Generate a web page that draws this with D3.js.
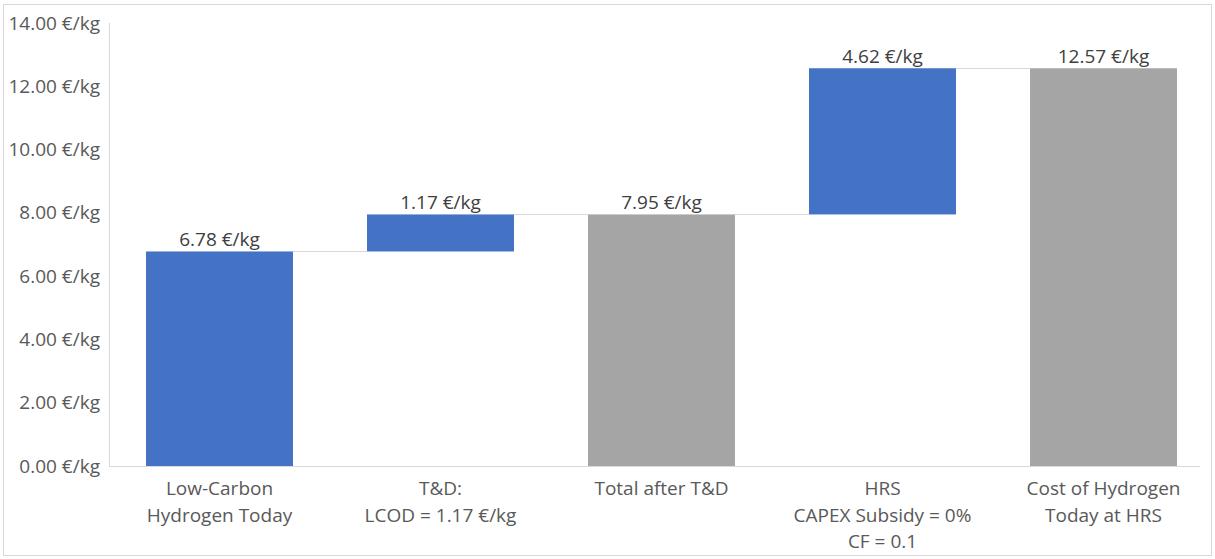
<!DOCTYPE html>
<html>
<head>
<meta charset="utf-8">
<script src="https://cdn.jsdelivr.net/npm/d3@7"></script>
<style>
  html, body { margin: 0; padding: 0; background: #fff; }
  svg { display: block; font-family: "Open Sans", "Noto Sans", sans-serif; }
</style>
</head>
<body>
<svg id="chart" width="1215" height="559"></svg>
<script>
// Waterfall of hydrogen cost build-up (€/kg)
const categories = [
  ["Low-Carbon", "Hydrogen Today"],
  ["T&D:", "LCOD = 1.17 €/kg"],
  ["Total after T&D"],
  ["HRS", "CAPEX Subsidy = 0%", "CF = 0.1"],
  ["Cost of Hydrogen", "Today at HRS"]
];
const barStart = [0, 6.78, 0, 7.95, 0];
const barValue = [6.78, 1.17, 7.95, 4.62, 12.57];
const barKind = ["step", "step", "total", "step", "total"];
const yTicks = [0, 2, 4, 6, 8, 10, 12, 14];

const colors = { step: "#4472C4", total: "#A5A5A5" };
const FS = 19;
const svg = d3.select("#chart");
const W = 1215, H = 559;

// outer frame
svg.append("rect")
  .attr("x", 3.5).attr("y", 4.5).attr("width", W - 7).attr("height", H - 8)
  .attr("fill", "none").attr("stroke", "#D9D9D9");

const x = d3.scaleBand().domain(d3.range(categories.length))
  .range([109, 1214]).paddingInner(0.335).paddingOuter(0.1675);
const y = d3.scaleLinear().domain([0, 14]).range([466, 23]);

// y axis line
svg.append("line")
  .attr("x1", 109.5).attr("x2", 109.5).attr("y1", y(14)).attr("y2", y(0))
  .attr("stroke", "#D9D9D9");

// y tick labels
const yAxis = d3.axisLeft(y).tickValues(yTicks)
  .tickFormat(d => d3.format(".2f")(d) + " €/kg").tickSize(0).tickPadding(9);
const ya = svg.append("g").attr("transform", "translate(109,0)").call(yAxis);
ya.select(".domain").remove();
ya.selectAll("text").attr("font-size", FS).attr("fill", "#595959")
  .attr("font-family", "'Open Sans', sans-serif");

// bars
const data = barValue.map((v, i) => ({
  i, start: barStart[i], end: barStart[i] + v, value: v, kind: barKind[i]
}));

// connector lines between consecutive bars
for (let i = 0; i < data.length - 1; i++) {
  const level = data[i].end;
  svg.append("line")
    .attr("x1", x(i) + x.bandwidth()).attr("x2", x(i + 1))
    .attr("y1", Math.round(y(level)) + 0.5).attr("y2", Math.round(y(level)) + 0.5)
    .attr("stroke", "#D9D9D9").attr("stroke-width", 1);
}

svg.selectAll("rect.bar").data(data).join("rect")
  .attr("class", "bar")
  .attr("x", d => x(d.i))
  .attr("width", x.bandwidth())
  .attr("y", d => y(d.end))
  .attr("height", d => y(d.start) - y(d.end))
  .attr("fill", d => colors[d.kind]);

// baseline
svg.append("line")
  .attr("x1", 109).attr("x2", 1200).attr("y1", y(0) + 0.5).attr("y2", y(0) + 0.5)
  .attr("stroke", "#D9D9D9");

// value labels
svg.selectAll("text.val").data(data).join("text")
  .attr("class", "val")
  .attr("x", d => x(d.i) + x.bandwidth() / 2)
  .attr("y", d => y(d.end) - 5)
  .attr("text-anchor", "middle")
  .attr("font-size", FS).attr("fill", "#404040")
  .text(d => d3.format(".2f")(d.value) + " €/kg");

// category labels
categories.forEach((lines, i) => {
  const t = svg.append("text")
    .attr("x", x(i) + x.bandwidth() / 2)
    .attr("y", 495)
    .attr("text-anchor", "middle")
    .attr("font-size", FS).attr("fill", "#595959");
  lines.forEach((ln, k) => {
    t.append("tspan").attr("x", x(i) + x.bandwidth() / 2)
      .attr("dy", k === 0 ? 0 : 26.5).text(ln);
  });
});
</script>
</body>
</html>
